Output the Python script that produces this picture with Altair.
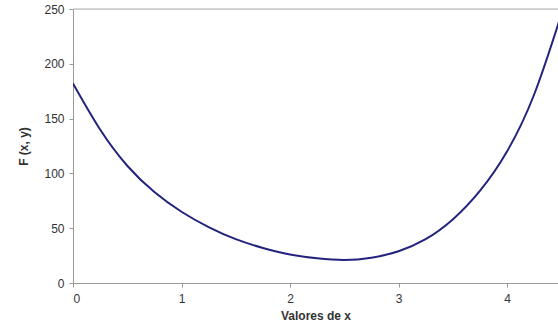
import altair as alt
import pandas as pd

# values
x_vals = [0.0, 0.25, 0.5, 0.75, 1.0, 1.25, 1.5, 1.75, 2.0, 2.25, 2.5,
          2.75, 3.0, 3.25, 3.5, 3.75, 4.0, 4.25, 4.5]
f_vals = [182, 140, 107, 83, 65, 51, 40, 32, 26, 22.5, 21,
          23, 29, 40, 58, 84, 120, 172, 245]

x_ticks = [0, 1, 2, 3, 4]
y_ticks = [0, 50, 100, 150, 200, 250]

df = pd.DataFrame({"x": x_vals, "F": f_vals})

axis_gray = "#9a9a9a"
label_col = "#333333"

x_enc = alt.X(
    "x:Q",
    scale=alt.Scale(domain=[0, 4.47], nice=False, zero=False),
    axis=alt.Axis(values=x_ticks, title="Valores de x", grid=False,
                  domainColor=axis_gray, tickColor=axis_gray, tickSize=4,
                  labelColor=label_col, labelFontSize=12, labelPadding=6,
                  titleFontSize=12, titleFontWeight="bold", titleColor=label_col,
                  titlePadding=6, labelFont="Liberation Sans", titleFont="Liberation Sans"),
)
y_enc = alt.Y(
    "F:Q",
    scale=alt.Scale(domain=[0, 250], nice=False),
    axis=alt.Axis(values=y_ticks, title="F (x, y)", grid=False,
                  domainColor=axis_gray, tickColor=axis_gray, tickSize=4,
                  labelColor=label_col, labelFontSize=12, labelPadding=5,
                  titleFontSize=12, titleFontWeight="bold", titleColor=label_col,
                  titlePadding=13, labelFont="Liberation Sans", titleFont="Liberation Sans"),
)

line = alt.Chart(df).mark_line(
    color="#23237f", strokeWidth=2, interpolate="natural", clip=True
).encode(x=x_enc, y=y_enc)

top = alt.Chart(pd.DataFrame({"y": [250]})).mark_rule(
    color="#c8c8c8", strokeWidth=1.5
).encode(y=alt.Y("y:Q", scale=alt.Scale(domain=[0, 250], nice=False)))

chart = alt.layer(top, line).properties(
    width=485, height=274,
    autosize=alt.AutoSizeParams(type="none"),
    padding={"left": 73, "top": 9, "right": 0, "bottom": 52},
).configure_view(stroke=None).configure(background="white")

chart.save("out.html", embed_options={"renderer": "svg", "actions": False})
